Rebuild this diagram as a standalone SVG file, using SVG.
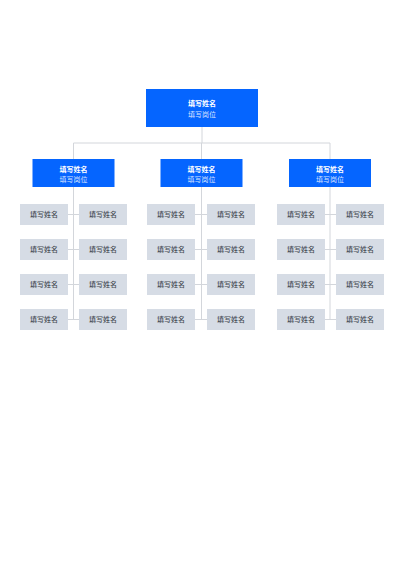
<svg xmlns="http://www.w3.org/2000/svg" width="400" height="566" viewBox="0 0 400 566">
<style>
.blue{fill:#0565ff}
.leaf{fill:#d6dce5}
.ln{stroke:#d3d6db;stroke-width:1;fill:none}
.t{font-family:"Noto Sans CJK SC","Noto Sans",sans-serif;text-anchor:middle}
.nm{font-size:7px;font-weight:bold;fill:#ffffff}
.ps{font-size:7px;fill:#ffffff;fill-opacity:0.85}
.lf{font-size:7px;fill:#474c55;font-weight:500}
</style>
<rect width="400" height="566" fill="#ffffff"/>
<g id="connectors">
<path class="ln" d="M202,127V143M73.5,143H330M73.5,143V159M201.5,143V159M330,143V159"/>
<path class="ln" d="M73.5,187V319.5M201.5,187V319.5M330,187V319.5"/>
<path class="ln" d="M68,214.5H79M68,249.5H79M68,284.5H79M68,319.5H79"/>
<path class="ln" d="M195,214.5H207M195,249.5H207M195,284.5H207M195,319.5H207"/>
<path class="ln" d="M325,214.5H336M325,249.5H336M325,284.5H336M325,319.5H336"/>
</g>
<g id="root">
<rect class="blue" x="146" y="89" width="112" height="38"/>
<text class="t nm" x="202" y="105.5">填写姓名</text>
<text class="t ps" x="202" y="117" font-size="7.7">填写岗位</text>
</g>
<g id="m1">
<rect class="blue" x="32.5" y="159" width="82" height="28"/>
<text class="t nm" x="73.5" y="171.5">填写姓名</text>
<text class="t ps" x="73.5" y="182">填写岗位</text>
</g>
<g id="m2">
<rect class="blue" x="160.5" y="159" width="82" height="28"/>
<text class="t nm" x="201.5" y="171.5">填写姓名</text>
<text class="t ps" x="201.5" y="182">填写岗位</text>
</g>
<g id="m3">
<rect class="blue" x="289" y="159" width="82" height="28"/>
<text class="t nm" x="330" y="171.5">填写姓名</text>
<text class="t ps" x="330" y="182">填写岗位</text>
</g>
<g id="g1-leaves">
<g id="l1a"><rect class="leaf" x="20" y="204" width="48" height="21"/><text class="t lf" x="44" y="217">填写姓名</text></g>
<g id="l1b"><rect class="leaf" x="79" y="204" width="48" height="21"/><text class="t lf" x="103" y="217">填写姓名</text></g>
<g id="l1c"><rect class="leaf" x="20" y="239" width="48" height="21"/><text class="t lf" x="44" y="252">填写姓名</text></g>
<g id="l1d"><rect class="leaf" x="79" y="239" width="48" height="21"/><text class="t lf" x="103" y="252">填写姓名</text></g>
<g id="l1e"><rect class="leaf" x="20" y="274" width="48" height="21"/><text class="t lf" x="44" y="287">填写姓名</text></g>
<g id="l1f"><rect class="leaf" x="79" y="274" width="48" height="21"/><text class="t lf" x="103" y="287">填写姓名</text></g>
<g id="l1g"><rect class="leaf" x="20" y="309" width="48" height="21"/><text class="t lf" x="44" y="322">填写姓名</text></g>
<g id="l1h"><rect class="leaf" x="79" y="309" width="48" height="21"/><text class="t lf" x="103" y="322">填写姓名</text></g>
</g>
<g id="g2-leaves">
<g id="l2a"><rect class="leaf" x="147" y="204" width="48" height="21"/><text class="t lf" x="171" y="217">填写姓名</text></g>
<g id="l2b"><rect class="leaf" x="207" y="204" width="48" height="21"/><text class="t lf" x="231" y="217">填写姓名</text></g>
<g id="l2c"><rect class="leaf" x="147" y="239" width="48" height="21"/><text class="t lf" x="171" y="252">填写姓名</text></g>
<g id="l2d"><rect class="leaf" x="207" y="239" width="48" height="21"/><text class="t lf" x="231" y="252">填写姓名</text></g>
<g id="l2e"><rect class="leaf" x="147" y="274" width="48" height="21"/><text class="t lf" x="171" y="287">填写姓名</text></g>
<g id="l2f"><rect class="leaf" x="207" y="274" width="48" height="21"/><text class="t lf" x="231" y="287">填写姓名</text></g>
<g id="l2g"><rect class="leaf" x="147" y="309" width="48" height="21"/><text class="t lf" x="171" y="322">填写姓名</text></g>
<g id="l2h"><rect class="leaf" x="207" y="309" width="48" height="21"/><text class="t lf" x="231" y="322">填写姓名</text></g>
</g>
<g id="g3-leaves">
<g id="l3a"><rect class="leaf" x="277" y="204" width="48" height="21"/><text class="t lf" x="301" y="217">填写姓名</text></g>
<g id="l3b"><rect class="leaf" x="336" y="204" width="48" height="21"/><text class="t lf" x="360" y="217">填写姓名</text></g>
<g id="l3c"><rect class="leaf" x="277" y="239" width="48" height="21"/><text class="t lf" x="301" y="252">填写姓名</text></g>
<g id="l3d"><rect class="leaf" x="336" y="239" width="48" height="21"/><text class="t lf" x="360" y="252">填写姓名</text></g>
<g id="l3e"><rect class="leaf" x="277" y="274" width="48" height="21"/><text class="t lf" x="301" y="287">填写姓名</text></g>
<g id="l3f"><rect class="leaf" x="336" y="274" width="48" height="21"/><text class="t lf" x="360" y="287">填写姓名</text></g>
<g id="l3g"><rect class="leaf" x="277" y="309" width="48" height="21"/><text class="t lf" x="301" y="322">填写姓名</text></g>
<g id="l3h"><rect class="leaf" x="336" y="309" width="48" height="21"/><text class="t lf" x="360" y="322">填写姓名</text></g>
</g>
</svg>
